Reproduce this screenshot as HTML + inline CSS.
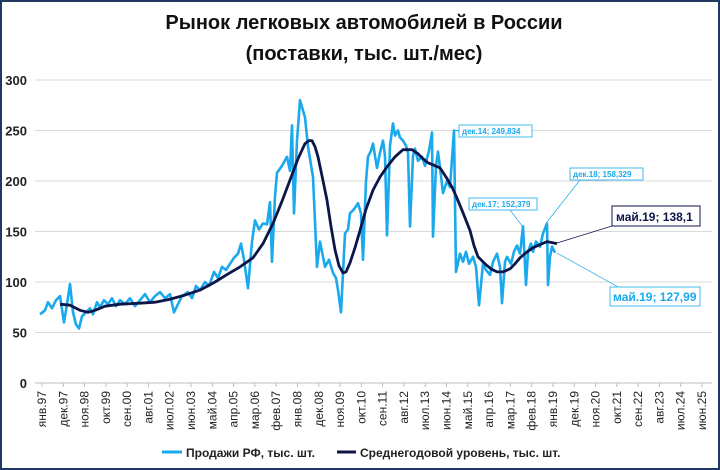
<!DOCTYPE html>
<html><head><meta charset="utf-8"><style>
html,body{margin:0;padding:0;background:#fff}
svg{display:block;font-family:"Liberation Sans",sans-serif}
</style></head><body>
<svg id="s" width="720" height="470" viewBox="0 0 720 470">
<rect x="1" y="1" width="718" height="468" fill="#fff" stroke="#1f3864" stroke-width="2"/>
<text x="364" y="29" text-anchor="middle" font-size="20" font-weight="bold" fill="#111">Рынок легковых автомобилей в России</text>
<text x="364" y="60" text-anchor="middle" font-size="20" font-weight="bold" fill="#111">(поставки, тыс. шт./мес)</text>
<g id="grid" stroke="#d9d9d9" stroke-width="1"></g>
<g id="ylab" font-size="13" font-weight="bold" fill="#222" text-anchor="end"></g>
<g id="xlab" font-size="12" fill="#222"></g>
<path id="sales" fill="none" stroke="#1aa9ec" stroke-width="2.6" stroke-linejoin="round"/>
<path id="ma" fill="none" stroke="#0c1648" stroke-width="2.8" stroke-linejoin="round"/>
<!-- annotations -->
<g font-weight="bold">
<line x1="455" y1="130" x2="459" y2="131" stroke="#1aa9ec"/>
<rect x="459" y="125" width="73" height="12" fill="#fff" stroke="#1aa9ec" stroke-width="0.8"/>
<text x="462" y="134" font-size="8" fill="#1aa9ec">дек.14; 249,834</text>
<polyline points="523,227 510,210 528,210" fill="none" stroke="#1aa9ec" stroke-width="0.7"/>
<rect x="469" y="198" width="68" height="12" fill="#fff" stroke="#1aa9ec" stroke-width="0.8"/>
<text x="472" y="207" font-size="8" fill="#1aa9ec">дек.17; 152,379</text>
<polyline points="547,222 580,180 606,180" fill="none" stroke="#1aa9ec" stroke-width="0.7"/>
<rect x="570" y="168" width="73" height="12" fill="#fff" stroke="#1aa9ec" stroke-width="0.8"/>
<text x="573" y="177" font-size="8" fill="#1aa9ec">дек.18; 158,329</text>
<polyline points="557,243 612,226 650,226" fill="none" stroke="#0c1648" stroke-width="0.7"/>
<rect x="612" y="206" width="88" height="20" fill="#fff" stroke="#0c1648" stroke-width="1"/>
<text x="616" y="221" font-size="12" fill="#0c1648">май.19;  138,1</text>
<polyline points="557,253 620,288 650,288" fill="none" stroke="#1aa9ec" stroke-width="0.7"/>
<rect x="610" y="287" width="90" height="19" fill="#fff" stroke="#1aa9ec" stroke-width="0.8"/>
<text x="613" y="301" font-size="12" fill="#1aa9ec">май.19; 127,99</text>
</g>
<line x1="337" y1="452" x2="356" y2="452" stroke="#0c1648" stroke-width="3"/>
<text x="360" y="457" font-size="12" font-weight="bold" fill="#222">Среднегодовой уровень, тыс. шт.</text>
<line x1="162" y1="452" x2="182" y2="452" stroke="#1aa9ec" stroke-width="3"/>
<text x="186" y="457" font-size="12" font-weight="bold" fill="#222">Продажи РФ, тыс. шт.</text>
</svg>
<script>
var NS="http://www.w3.org/2000/svg";
function Y(v){return 383-v*1.01;}
function el(t,a,p,txt){var e=document.createElementNS(NS,t);for(var k in a)e.setAttribute(k,a[k]);if(txt)e.textContent=txt;document.getElementById(p).appendChild(e);}
for(var v=0;v<=300;v+=50){ if(v>0) el("line",{x1:35,x2:712,y1:Y(v),y2:Y(v)},"grid"); el("text",{x:27,y:Y(v)+5},"ylab",String(v));}
el("line",{x1:35,x2:712,y1:383,y2:383,stroke:"#bfbfbf"},"grid");
var labs=["янв.97","дек.97","ноя.98","окт.99","сен.00","авг.01","июл.02","июн.03","май.04","апр.05","мар.06","фев.07","янв.08","дек.08","ноя.09","окт.10","сен.11","авг.12","июл.13","июн.14","май.15","апр.16","мар.17","фев.18","янв.19","дек.19","ноя.20","окт.21","сен.22","авг.23","июл.24","июн.25"];
for(var i=0;i<labs.length;i++){var x=42+i*21.29;
 el("line",{x1:x,x2:x,y1:383,y2:387,stroke:"#bfbfbf"},"grid");
 el("text",{transform:"translate("+(x+4)+",391) rotate(-90)","text-anchor":"end"},"xlab",labs[i]);}
var S=[[40,68],[45,72],[48,80],[52,74],[56,82],[60,86],[64,60],[67,78],[70,98],[73,70],[76,58],[79,54],[82,66],[86,70],[90,74],[93,68],[97,80],[100,75],[104,82],[108,78],[112,84],[116,76],[120,82],[125,78],[130,84],[135,76],[140,82],[145,88],[150,80],[155,86],[160,90],[165,84],[170,88],[174,70],[177,76],[182,86],[188,90],[192,84],[196,96],[200,92],[205,100],[209,96],[214,110],[218,104],[222,115],[226,112],[230,118],[234,124],[238,128],[241,138],[244,122],[248,94],[252,140],[255,161],[259,152],[263,158],[267,157],[270,179],[272,120],[275,185],[277,208],[282,215],[287,224],[290,210],[292,255],[294,168],[297,240],[300,280],[305,263],[308,234],[313,204],[317,115],[320,140],[322,130],[325,115],[329,122],[333,109],[336,104],[338,92],[341,70],[345,148],[348,152],[350,168],[354,172],[358,178],[361,168],[363,122],[366,200],[368,224],[371,230],[373,237],[377,213],[380,228],[383,240],[385,225],[387,146],[390,235],[393,257],[395,245],[398,250],[400,243],[403,240],[406,235],[408,228],[410,155],[413,225],[415,232],[418,220],[422,224],[425,215],[429,230],[432,248],[433,145],[436,215],[438,229],[441,205],[443,188],[447,200],[450,194],[454,250],[456,110],[460,128],[463,120],[466,130],[469,118],[473,125],[476,115],[479,77],[483,118],[486,112],[490,107],[493,120],[497,128],[500,115],[502,79],[505,120],[507,125],[511,118],[514,130],[517,136],[520,128],[523,155],[526,97],[528,130],[531,138],[533,130],[536,140],[540,135],[543,148],[547,158],[548,97],[550,125],[552,135],[555,129]];
var M=[[60,78],[70,77],[80,72],[88,70],[95,72],[105,76],[120,78],[140,79],[155,80],[170,83],[185,87],[200,92],[215,100],[228,108],[240,115],[253,124],[263,138],[273,158],[282,180],[290,201],[298,222],[305,237],[309,240],[312,240],[315,234],[318,224],[322,205],[327,181],[331,155],[335,132],[339,116],[343,109],[346,110],[350,119],[355,134],[360,151],[366,172],[373,191],[380,204],[387,214],[395,224],[403,231],[412,231],[418,227],[422,223],[428,218],[433,216],[440,213],[446,204],[452,194],[457,183],[462,171],[466,161],[470,151],[474,136],[478,125],[485,118],[491,113],[497,110],[503,110],[510,113],[515,118],[520,124],[526,129],[533,134],[540,137],[547,140],[552,139],[557,138]];
function P(a){return a.map(function(p,i){return (i?"L":"M")+p[0].toFixed(1)+","+Y(p[1]).toFixed(1);}).join("");}
document.getElementById("sales").setAttribute("d",P(S));
document.getElementById("ma").setAttribute("d",P(M));
</script>
</body></html>
